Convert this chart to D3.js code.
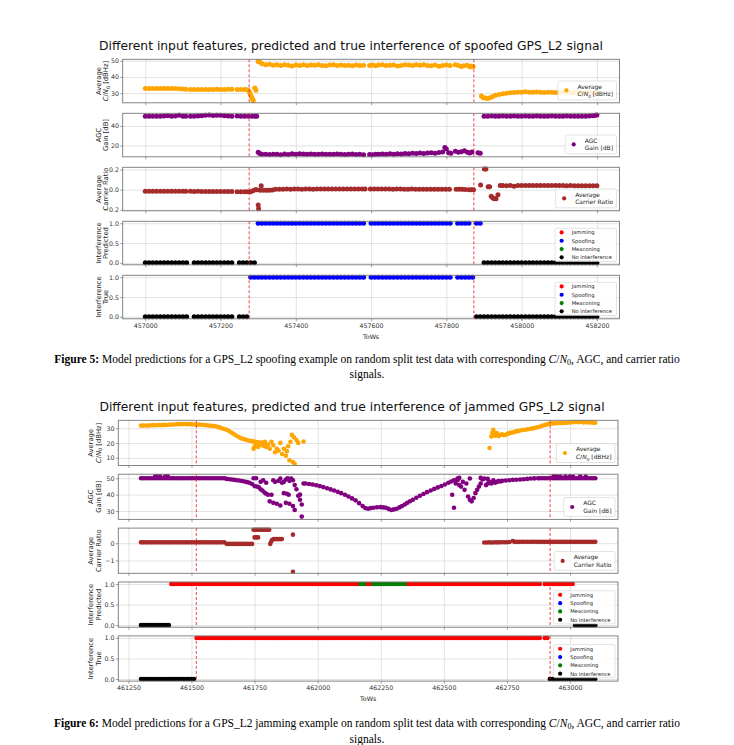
<!DOCTYPE html>
<html><head><meta charset="utf-8">
<script src="https://cdn.jsdelivr.net/npm/d3@7"></script>
<style>body{margin:0;background:#fff} svg{display:block}</style>
</head><body><svg id="c" width="734" height="745"></svg>
<script>
// ================= DATA =================
const titleSpoof = "Different input features, predicted and true interference of spoofed GPS_L2 signal";
const titleJam = "Different input features, predicted and true interference of jammed GPS_L2 signal";
const tickSpoof = [457000, 457200, 457400, 457600, 457800, 458000, 458200];
const tickJam = [461250, 461500, 461750, 462000, 462250, 462500, 462750, 463000];
const linesSpoof = [457276, 457873];
const linesJam = [461519, 462921];
const classNames = ["Jamming", "Spoofing", "Meaconing", "No interference"];
const classCodes = ["J", "S", "M", "N"];

const cn0Spoof = [
[457000,32.9],[457010,32.9],[457020,32.9],[457030,32.8],[457040,32.9],[457050,32.8],[457060,32.9],[457070,32.8],[457080,32.8],[457090,32.7],[457100,32.6],[457108,32.4],
[457120,32.3],[457130,32.3],[457140,32.3],[457150,32.2],[457160,32.3],[457170,32.3],[457180,32.3],[457190,32.4],[457200,32.3],[457210,32.3],[457220,32.4],[457230,32.4],
[457244,32.3],[457254,32.3],[457264,32.2],[457272,32.1],[457276,31.0],[457279,29.5],[457282,27.8],[457285,26.3],[457287,25.3],[457291,33.2],[457294,31.8],
[457300,49.6],[457305,49.0],[457310,48.2],[457320,47.6],[457330,47.8],[457340,47.2],[457350,47.5],[457360,47.0],[457370,47.6],[457380,47.2],[457390,46.8],[457400,47.3],[457410,47.1],[457420,47.6],[457430,47.0],[457440,47.4],[457450,47.2],[457460,47.5],[457470,47.0],[457480,46.9],[457490,47.3],[457500,47.6],[457510,47.1],[457520,47.4],[457530,47.0],[457540,47.2],[457550,46.9],[457560,47.3],[457570,47.0],[457580,47.2],
[457596,47.1],[457604,47.4],[457612,46.9],[457620,47.3],[457630,47.6],[457640,47.0],[457650,47.2],[457660,47.4],[457670,46.8],[457680,47.1],[457690,47.6],[457700,47.3],[457710,47.0],[457720,47.5],[457730,47.2],[457740,47.6],[457750,47.1],[457760,46.9],[457770,47.3],[457780,46.6],[457790,47.0],[457800,47.4],[457810,47.0],
[457824,47.6],[457832,47.1],[457840,46.4],[457846,46.9],[457855,47.2],[457862,46.3],[457866,46.8],[457871,46.3],
[457893,28.2],[457898,27.2],[457904,27.0],[457910,26.6],[457916,27.2],[457922,27.8],[457930,28.6],[457940,29.2],[457950,29.6],[457960,29.9],[457970,30.2],[457980,30.4],[457990,30.5],[458000,30.6],[458010,30.8],[458020,30.6],[458030,30.5],[458040,30.7],[458050,30.6],[458060,30.4],[458070,30.6],[458080,30.5],[458090,30.3],[458100,30.4],[458110,30.5],[458120,30.3],[458130,30.2],[458140,30.4],[458150,30.3],[458160,30.2],[458170,30.3],[458180,30.4],[458190,30.2],[458200,30.3]
];

const agcSpoof = [
[457000,50.0],[457010,50.0],[457020,50.0],[457030,50.0],[457040,50.0],[457050,50.2],[457060,50.4],[457070,50.0],[457080,50.3],[457090,51.0],[457100,50.0],[457108,50.0],
[457120,50.0],[457130,50.0],[457140,50.3],[457150,50.4],[457160,51.0],[457170,51.3],[457180,50.8],[457190,50.9],[457200,51.0],[457210,50.5],[457220,50.2],[457230,50.0],
[457244,50.3],[457254,50.0],[457264,50.0],[457274,50.0],[457284,50.0],[457292,50.0],[457296,50.0],
[457300,13.0],[457304,11.6],[457310,11.0],[457320,11.0],[457330,10.6],[457340,11.0],[457350,10.8],[457360,10.5],[457370,11.2],[457380,10.6],[457390,11.4],[457400,10.9],[457410,11.5],[457420,11.2],[457430,11.0],[457440,11.3],[457450,10.8],[457460,11.0],[457470,11.2],[457480,10.8],[457490,11.0],[457500,10.9],[457510,11.3],[457520,11.0],[457530,10.7],[457540,11.0],[457550,11.2],[457560,10.6],[457570,10.8],[457580,10.5],
[457596,10.6],[457604,10.4],[457612,11.0],[457620,10.8],[457630,11.2],[457640,10.9],[457650,11.4],[457660,11.0],[457670,11.5],[457680,11.2],[457690,11.8],[457700,11.4],[457710,12.0],[457720,11.6],[457730,12.2],[457740,11.8],[457750,12.3],[457760,12.5],[457770,12.0],[457780,12.8],[457790,13.2],[457796,17.8],[457800,16.3],[457806,12.5],[457812,12.0],
[457824,14.0],[457832,13.0],[457840,13.5],[457848,14.5],[457856,13.0],[457862,12.3],[457868,13.2],[457884,12.5],[457890,12.0],
[457900,50.0],[457910,50.0],[457920,50.1],[457930,50.0],[457940,50.0],[457950,50.2],[457960,50.0],[457970,50.0],[457980,50.1],[457990,50.0],[458000,50.0],[458010,50.2],[458020,50.0],[458030,50.0],[458040,50.1],[458050,50.0],[458060,50.0],[458070,50.0],[458080,50.1],[458090,50.0],[458100,50.0],[458110,50.0],[458120,50.1],[458130,50.0],[458140,50.0],[458150,50.0],[458160,50.0],[458170,50.0],[458180,50.3],[458190,50.6],[458196,51.0],[458200,51.2]
];

const crSpoof = [
[457000,-0.015],[457010,-0.015],[457020,-0.015],[457030,-0.015],[457040,-0.015],[457050,-0.016],[457060,-0.015],[457070,-0.016],[457080,-0.015],[457090,-0.016],[457100,-0.016],[457108,-0.017],
[457120,-0.017],[457130,-0.018],[457140,-0.017],[457150,-0.018],[457160,-0.018],[457170,-0.018],[457180,-0.018],[457190,-0.019],[457200,-0.018],[457210,-0.019],[457220,-0.019],[457230,-0.019],
[457244,-0.02],[457254,-0.02],[457264,-0.021],[457272,-0.021],[457280,-0.02],[457286,-0.012],[457292,-0.002],[457296,0.0],[457300,-0.152],[457301,-0.19],[457308,0.04],[457305,-0.006],[457314,-0.006],[457322,-0.006],[457330,-0.005],[457338,-0.004],
[457346,0.004],[457356,0.005],[457366,0.005],[457376,0.006],[457386,0.005],[457396,0.006],[457406,0.006],[457416,0.005],[457426,0.006],[457436,0.006],[457446,0.005],[457456,0.006],[457466,0.006],[457476,0.007],[457486,0.006],[457496,0.006],[457506,0.007],[457516,0.006],[457526,0.006],[457536,0.007],[457546,0.006],[457556,0.006],[457566,0.007],[457576,0.006],[457584,0.006],
[457598,0.006],[457608,0.006],[457618,0.007],[457628,0.006],[457638,0.006],[457648,0.006],[457658,0.005],[457668,0.006],[457678,0.006],[457688,0.005],[457698,0.005],[457708,0.006],[457718,0.005],[457728,0.005],[457738,0.005],[457748,0.004],[457758,0.005],[457768,0.004],[457778,0.004],[457788,0.004],[457798,0.004],[457808,0.004],
[457826,0.003],[457834,0.003],[457842,0.003],[457850,0.002],[457860,0.0],[457866,0.0],[457872,0.0],
[457891,0.045],[457901,0.205],[457905,0.205],[457911,0.03],[457915,0.03],[457919,-0.066],[457923,-0.08],[457927,-0.09],[457932,-0.09],[457937,-0.05],[457943,0.042],[457950,0.042],[457960,0.04],[457970,0.042],[457980,0.034],[457990,0.042],[458000,0.042],[458010,0.042],[458020,0.041],[458030,0.042],[458040,0.042],[458050,0.041],[458060,0.042],[458070,0.042],[458080,0.041],[458090,0.041],[458100,0.041],[458110,0.041],[458120,0.040],[458130,0.041],[458140,0.040],[458150,0.040],[458160,0.040],[458170,0.040],[458180,0.040],[458190,0.040],[458200,0.040]
];

const towsSpoof = [
457000,457010,457020,457030,457040,457050,457060,457070,457080,457090,
457100,457110,457120,457130,457140,457150,457160,457170,457180,457190,
457200,457210,457220,457230,457240,457250,457260,457270,457280,457290,
457300,457310,457320,457330,457340,457350,457360,457370,457380,457390,
457400,457410,457420,457430,457440,457450,457460,457470,457480,457490,
457500,457510,457520,457530,457540,457550,457560,457570,457580,457590,
457600,457610,457620,457630,457640,457650,457660,457670,457680,457690,
457700,457710,457720,457730,457740,457750,457760,457770,457780,457790,
457800,457810,457820,457830,457840,457850,457860,457870,457880,457890,
457900,457910,457920,457930,457940,457950,457960,457970,457980,457990,
458000,458010,458020,458030,458040,458050,458060,458070,458080,458090,
458100,458110,458120,458130,458140,458150,458160,458170,458180,458190,
458200];
const predSpoof = "NNNNNNNNNN NN.NNNNNNN NNNN.NNNNN SSSSSSSSSS SSSSSSSSSS SSSSSSSSS. SSSSSSSSSS SSSSSSSSSS SS.SSSS.SS NNNNNNNNNN NNNNNNNNNN NNNNNNNNNN N";
const trueSpoof = "NNNNNNNNNN NN.NNNNNNN NNNN.NNNSS SSSSSSSSSS SSSSSSSSSS SSSSSSSSS. SSSSSSSSSS SSSSSSSSSS SS.SSSSSNN NNNNNNNNNN NNNNNNNNNN NNNNNNNNNN N";

const cn0Jam = [
[461300,31.8],[461310,31.8],[461320,31.9],[461330,31.8],[461340,32.0],[461350,32.1],[461360,32.0],[461370,32.2],[461380,32.1],[461390,32.3],[461400,32.2],[461410,32.4],[461420,32.5],[461430,32.6],[461440,32.7],[461450,32.8],[461460,32.8],[461470,32.9],[461480,32.8],[461490,32.8],
[461500,32.7],[461510,32.6],[461520,32.6],[461530,32.5],[461540,32.4],[461550,32.2],[461560,32.0],[461570,31.8],[461580,31.6],[461590,31.5],[461600,31.2],[461610,30.6],[461620,30.0],[461630,29.5],[461640,29.0],[461650,28.0],[461660,27.0],[461670,25.8],[461680,24.8],[461690,23.8],
[461700,23.0],[461710,22.5],[461720,22.0],[461730,21.6],[461740,21.3],[461750,21.0],[461760,20.6],[461770,20.3],[461780,20.0],[461790,19.8],
[461746,16.1],[461750,17.8],[461756,19.6],[461764,17.3],[461770,18.9],[461779,20.1],[461784,18.2],[461791,20.8],[461796,17.3],[461803,18.9],[461810,16.1],[461817,20.8],[461824,18.5],[461831,13.8],[461838,16.1],[461845,14.9],[461852,20.1],[461859,12.6],[461866,16.1],[461874,11.4],[461878,14.5],[461883,17.8],[461888,8.4],[461892,20.8],[461898,25.5],[461902,7.2],[461906,23.9],[461909,6.0],[461916,22.0],[461923,20.1],[461944,21.0],
[462681,16.6],[462688,24.4],[462692,27.0],[462696,29.0],[462700,26.7],[462703,25.0],[462710,26.7],[462717,24.8],[462724,25.5],[462731,26.0],[462738,25.3],[462745,25.6],[462752,26.2],[462759,26.7],[462766,27.0],[462774,27.2],[462781,27.6],[462788,27.9],[462795,28.2],[462802,28.5],[462812,28.8],[462822,29.0],[462832,29.3],[462842,29.6],[462852,29.9],[462862,30.3],[462872,30.7],[462882,31.2],[462892,31.8],[462902,32.3],[462912,32.8],[462922,33.2],[462932,33.3],[462942,33.4],[462952,33.5],[462962,33.6],[462972,33.5],[462982,33.7],[462992,33.8],[463002,34.0],[463012,34.1],[463022,34.2],[463032,34.1],[463042,34.2],[463052,34.0],[463062,34.1],[463072,33.9],[463082,34.0],[463092,33.8],[463100,33.7]
];

const agcJam = [
[461300,50],[461310,50],[461320,50],[461330,50],[461340,50],[461350,50],[461356,51.2],[461360,50],[461366,51.2],[461370,50],[461376,51.2],[461380,50],[461390,50],[461396,51.2],[461400,50],[461406,51.2],[461410,50],
[461420,50],[461430,50],[461440,50],[461450,50],[461460,50],[461470,50],[461480,50],[461490,50],[461500,50],[461510,50],[461520,50],[461530,50],[461540,50],[461550,50],[461560,50],[461570,50],[461580,50],[461590,50],[461600,50],[461610,50],[461620,50],[461630,50],
[461640,49.6],[461650,49.4],[461660,49.2],[461670,49.0],[461680,48.8],[461690,48.6],[461700,48.3],[461710,48.0],[461720,47.6],[461730,47.2],[461740,46.5],
[461746,50.0],[461750,45.2],[461756,50.0],[461760,44.9],[461767,44.5],[461774,43.3],[461774,47.8],[461781,42.5],[461784,48.8],[461789,41.3],[461796,40.5],[461796,47.2],[461803,39.9],[461810,35.9],[461817,39.9],[461824,35.0],[461824,48.8],[461831,47.8],[461838,34.4],[461845,48.4],[461852,33.4],[461852,49.8],[461859,47.2],[461866,47.8],[461866,40.9],[461874,49.2],[461874,35.0],[461878,40.5],[461881,50.0],[461885,39.9],[461888,48.4],[461888,34.4],[461895,49.8],[461902,48.8],[461902,33.0],[461909,30.6],[461909,45.8],[461916,43.3],[461923,39.3],[461930,36.9],[461930,40.0],[461937,26.6],[461937,34.0],[461944,46.8],
[461952,46.8],[461966,46.5],[461980,46.2],[461994,45.7],[462008,45.2],[462022,44.6],[462037,43.9],[462051,43.2],[462065,42.5],[462079,41.7],[462093,40.9],[462108,39.9],[462122,38.9],[462136,37.7],[462150,36.5],[462164,34.8],[462178,33.0],[462189,31.8],[462200,31.4],[462210,31.8],[462221,32.0],[462235,32.3],[462249,32.4],[462260,32.2],[462270,32.0],[462281,31.3],[462292,30.6],[462302,31.0],[462313,31.4],[462324,32.2],[462334,33.0],[462345,34.0],[462355,35.0],[462366,36.0],[462377,36.9],[462391,38.1],[462405,39.3],[462419,40.4],[462433,41.5],[462448,42.5],[462462,43.5],[462476,44.4],[462490,45.2],[462504,46.2],[462518,47.2],[462529,48.0],[462540,48.8],[462554,49.8],
[462533,39.9],[462540,32.0],[462547,46.8],[462554,48.8],[462561,45.8],[462561,50.2],[462568,44.9],[462575,47.8],[462582,42.9],[462589,46.8],[462596,38.9],[462603,36.9],[462603,49.8],[462610,35.9],[462618,37.9],[462625,40.9],[462632,42.9],[462639,44.9],[462646,46.8],[462646,50.2],[462653,49.2],[462660,49.8],[462667,45.8],[462674,46.8],[462674,49.6],[462681,47.8],[462688,46.8],[462696,48.8],[462703,47.2],[462710,47.8],[462717,48.2],
[462724,48.0],[462731,48.4],[462745,48.6],[462759,48.8],[462773,49.0],[462787,49.1],[462802,49.2],[462816,49.4],[462830,49.6],[462844,49.8],[462858,49.9],[462873,50.0],
[462880,50],[462890,50],[462900,50],[462910,50],[462920,50],[462930,50],[462940,50],[462950,50],[462960,50],[462970,50],[462980,50],[462990,50],[463000,50],[463010,50],[463020,50],[463030,50],[463040,50],[463050,50],[463060,50],[463070,50],[463080,50],[463090,50],[463100,50],
[462935,51.2],[462948,51.2],[462962,51.0],[462982,51.2],[463000,51.2],[463012,51.0],[463040,51.2],[463062,51.0]
];

const crJam = [
[461300,0.05],[461310,0.05],[461320,0.05],[461330,0.05],[461340,0.05],[461350,0.05],[461360,0.05],[461370,0.05],[461380,0.05],[461390,0.05],[461400,0.05],[461410,0.05],[461420,0.05],[461430,0.05],[461440,0.05],[461450,0.05],[461460,0.05],[461470,0.05],[461480,0.05],[461490,0.05],
[461500,0.05],[461510,0.05],[461520,0.05],[461530,0.05],[461540,0.05],[461550,0.05],[461560,0.05],[461570,0.05],[461580,0.05],[461590,0.05],[461600,0.05],[461610,0.05],[461620,0.05],[461630,0.05],
[461640,-0.04],[461650,-0.04],[461660,-0.04],[461670,-0.04],[461680,-0.04],[461690,-0.04],[461700,-0.04],[461710,-0.04],[461720,-0.04],[461730,-0.04],[461740,-0.04],
[461746,0.78],[461750,0.34],[461753,0.78],[461757,0.34],[461760,0.78],[461764,0.34],[461767,0.78],[461774,0.78],[461781,0.78],[461788,0.78],[461795,0.78],[461802,0.78],[461808,0.78],
[461812,-0.04],[461816,0.1],[461820,0.2],[461826,0.24],[461832,0.24],[461838,0.24],[461845,0.24],[461851,0.24],[461858,0.24],[461902,0.5],[461902,-1.66],
[462660,0.04],[462670,0.04],[462680,0.05],[462690,0.04],[462700,0.05],[462710,0.05],[462720,0.05],[462730,0.06],[462740,0.06],[462750,0.06],[462760,0.07],[462773,0.13],[462780,0.08],[462790,0.08],
[462800,0.08],[462810,0.08],[462820,0.09],[462830,0.08],[462840,0.08],[462850,0.08],[462860,0.09],[462870,0.08],[462880,0.08],[462890,0.08],[462900,0.08],[462910,0.08],[462920,0.08],[462930,0.08],[462940,0.08],[462950,0.08],[462960,0.08],[462970,0.08],[462980,0.08],[462990,0.08],
[463000,0.08],[463010,0.08],[463020,0.08],[463030,0.08],[463040,0.08],[463050,0.08],[463060,0.08],[463070,0.08],[463080,0.08],[463090,0.08],[463100,0.08]
];

const towsJam = [
461300,461310,461320,461330,461340,461350,461360,461370,461380,461390,
461400,461410,461420,461430,461440,461450,461460,461470,461480,461490,
461500,461510,461520,461530,461540,461550,461560,461570,461580,461590,
461600,461610,461620,461630,461640,461650,461660,461670,461680,461690,
461700,461710,461720,461730,461740,461750,461760,461770,461780,461790,
461800,461810,461820,461830,461840,461850,461860,461870,461880,461890,
461900,461910,461920,461930,461940,461950,461960,461970,461980,461990,
462000,462010,462020,462030,462040,462050,462060,462070,462080,462090,
462100,462110,462120,462130,462140,462150,462160,462170,462180,462190,
462200,462210,462220,462230,462240,462250,462260,462270,462280,462290,
462300,462310,462320,462330,462340,462350,462360,462370,462380,462390,
462400,462410,462420,462430,462440,462450,462460,462470,462480,462490,
462500,462510,462520,462530,462540,462550,462560,462570,462580,462590,
462600,462610,462620,462630,462640,462650,462660,462670,462680,462690,
462700,462710,462720,462730,462740,462750,462760,462770,462780,462790,
462800,462810,462820,462830,462840,462850,462860,462870,462880,462890,
462900,462910,462920,462930,462940,462950,462960,462970,462980,462990,
463000,463010,463020,463030,463040,463050,463060,463070,463080,463090,
463100];
const predJam = "NNNNNNNNNN NNJJJJJJJJ JJJJJJJJJJ JJJJJJJJJJ JJJJJJJJJJ JJJJJJJJJJ JJJJJJJJJJ JJJJJJJJJJ JJJJJJJMMM JJMMMMMMMM MMMMMMJJJJ JJJJJJJJJJ JJJJJJJJJJ JJJJJJJJJJ JJJJJJJJJJ JJJJJJJJJ. JJJJJJJJJJ JJNNNNNNNN N";
const trueJam = "NNNNNNNNNN NNNNNNNNNN NNJJJJJJJJ JJJJJJJJJJ JJJJJJJJJJ JJJJJJJJJJ JJJJJJJJJJ JJJJJJJJJJ JJJJJJJJJJ JJJJJJJJJJ JJJJJJJJJJ JJJJJJJJJJ JJJJJJJJJJ JJJJJJJJJJ JJJJJJJJJJ JJJJJJJJJ. JJNNNNNNNN NNNNNNNNNN N";

// ================= DRAWING =================
const FONT = "'DejaVu Sans', sans-serif";
const classColors = {J: "#ff0000", S: "#0000ff", M: "#008000", N: "#000000"};
const svg = d3.select("#c").attr("font-family", FONT);

function rich(sel, parts, fs) {
  let pend = 0;
  parts.forEach(p => {
    const o = typeof p === "string" ? {t: p} : p;
    const t = sel.append("tspan").text(o.t);
    let dy = pend; pend = 0;
    if (o.i) t.attr("font-style", "italic");
    if (o.b) t.attr("font-weight", "bold");
    if (o.sub) { t.attr("font-size", fs * 0.7); dy += fs * 0.25; pend = -fs * 0.25; }
    if (dy) t.attr("dy", dy);
  });
}

const CN0 = [{t: "C", i: true}, "/", {t: "N", i: true}, {t: "0", sub: true}, " [dBHz]"];
const labCN0 = [["Average"], CN0];
const labAGC = [["AGC"], ["Gain [dB]"]];
const labCR = [["Average"], ["Carrier Ratio"]];

const figs = [
  {title: titleSpoof, xDom: [456940, 458260], left: 122.7, right: 619.5, top: 59.3, step: 54, h: 43.5, r: 2.5,
   ticks: tickSpoof, titleX: 351, titleY: 50, ylabX: [99, 105.7], vlines: linesSpoof, tows: towsSpoof,
   panels: [
     {kind: "s", data: cn0Spoof, color: "#ffa500", yDom: [24.0, 50.9], yT: [30, 40, 50], fmt: "d", lab: labCN0},
     {kind: "s", data: agcSpoof, color: "#800080", yDom: [8.3, 53.0], yT: [20, 40], fmt: "d", lab: labAGC},
     {kind: "s", data: crSpoof, color: "#a52a2a", yDom: [-0.21, 0.222], yT: [-0.2, 0, 0.2], fmt: ".1f", lab: labCR},
     {kind: "c", codes: predSpoof, yDom: [-0.05, 1.05], yT: [0, 0.5, 1], fmt: ".1f", lab: [["Interference"], ["Predicted"]]},
     {kind: "c", codes: trueSpoof, yDom: [-0.05, 1.05], yT: [0, 0.5, 1], fmt: ".1f", lab: [["Interference"], ["True"]]}
   ]},
  {title: titleJam, xDom: [461210, 463190], left: 118.3, right: 618, top: 420.3, step: 53.9, h: 45.2, r: 2.3,
   ticks: tickJam, titleX: 352, titleY: 411, ylabX: [91, 98.3], vlines: linesJam, tows: towsJam,
   panels: [
     {kind: "s", data: cn0Jam, color: "#ffa500", yDom: [4.8, 35.4], yT: [10, 20, 30], fmt: "d", lab: labCN0},
     {kind: "s", data: agcJam, color: "#800080", yDom: [24.9, 52.45], yT: [30, 40, 50], fmt: "d", lab: labAGC},
     {kind: "s", data: crJam, color: "#a52a2a", yDom: [-1.75, 0.88], yT: [-1, 0], fmt: "d", lab: labCR},
     {kind: "c", codes: predJam, yDom: [-0.05, 1.05], yT: [0, 0.5, 1], fmt: ".1f", lab: [["Interference"], ["Predicted"]]},
     {kind: "c", codes: trueJam, yDom: [-0.05, 1.05], yT: [0, 0.5, 1], fmt: ".1f", lab: [["Interference"], ["True"]]}
   ]}
];

function legend(g, entries, right, bottom, opt) {
  const lg = g.append("g");
  const box = lg.append("rect");
  const h = opt.single ? entries[0].lines.length * opt.lh + 2 * opt.pv : entries.length * opt.lh;
  const top = bottom - h;
  let maxW = 0;
  const texts = [];
  entries.forEach((e, k) => {
    const cy = opt.single ? top + h / 2 : top + opt.lh / 2 + k * opt.lh;
    lg.append("circle").attr("r", 2.1).attr("fill", e.color).attr("cy", cy);
    e.lines.forEach((ln, j) => {
      const ly = opt.single ? top + opt.pv + opt.lh * (j + 0.5) : cy;
      const t = lg.append("text").attr("y", ly + opt.fs * 0.36).attr("font-size", opt.fs).attr("fill", "#222");
      rich(t, ln, opt.fs);
      maxW = Math.max(maxW, t.node().getComputedTextLength());
      texts.push(t);
    });
  });
  const w = opt.tx + maxW + opt.pr;
  const x0 = right - w;
  box.attr("x", x0).attr("y", top).attr("width", w).attr("height", h).attr("rx", 1.5)
     .attr("fill", "#fff").attr("fill-opacity", 0.85).attr("stroke", "#d0d0d0").attr("stroke-width", 0.6);
  lg.selectAll("circle").attr("cx", x0 + opt.mx);
  texts.forEach(t => t.attr("x", x0 + opt.tx));
}

figs.forEach(f => {
  svg.append("text").attr("x", f.titleX).attr("y", f.titleY).attr("text-anchor", "middle")
     .attr("font-size", 12.3).attr("fill", "#111").text(f.title);
  const x = d3.scaleLinear().domain(f.xDom).range([f.left, f.right]);
  const W = f.right - f.left;
  f.panels.forEach((p, k) => {
    const y0 = f.top + k * f.step, y1 = y0 + f.h;
    const y = d3.scaleLinear().domain(p.yDom).range([y1, y0]);
    const g = svg.append("g");
    // grid
    g.append("g").attr("transform", `translate(0,${y1})`)
      .call(d3.axisBottom(x).tickValues(f.ticks).tickSize(-f.h).tickFormat(""))
      .call(s => { s.select(".domain").remove(); s.selectAll("line").attr("stroke", "#d6d6d6").attr("stroke-width", 0.7); });
    g.append("g").attr("transform", `translate(${f.left},0)`)
      .call(d3.axisLeft(y).tickValues(p.yT).tickSize(-W).tickFormat(""))
      .call(s => { s.select(".domain").remove(); s.selectAll("line").attr("stroke", "#d6d6d6").attr("stroke-width", 0.7); });
    // points
    let pts;
    if (p.kind === "s") {
      pts = p.data.map(d => ({t: d[0], v: d[1], c: p.color}));
    } else {
      const codes = p.codes.replace(/\s/g, "");
      pts = f.tows.map((t, i) => ({t, code: codes[i]})).filter(d => d.code && d.code !== ".")
        .map(d => ({t: d.t, v: d.code === "N" ? 0 : 1, c: classColors[d.code]}));
    }
    g.append("g").selectAll("circle").data(pts).join("circle")
      .attr("cx", d => x(d.t)).attr("cy", d => y(d.v)).attr("r", f.r).attr("fill", d => d.c);
    // vertical dashed lines
    g.append("g").selectAll("line").data(f.vlines).join("line")
      .attr("x1", d => x(d)).attr("x2", d => x(d)).attr("y1", y0).attr("y2", y1)
      .attr("stroke", "#e8141b").attr("stroke-width", 0.8).attr("stroke-dasharray", "3,2");
    // frame
    g.append("rect").attr("x", f.left).attr("y", y0).attr("width", W).attr("height", f.h)
      .attr("fill", "none").attr("stroke", "#777").attr("stroke-width", 0.9);
    // y axis
    g.append("g").attr("transform", `translate(${f.left},0)`)
      .call(d3.axisLeft(y).tickValues(p.yT).tickSize(2.5).tickPadding(1.3).tickFormat(d3.format(p.fmt)))
      .call(s => {
        s.select(".domain").remove();
        s.attr("font-family", FONT).attr("font-size", 6.3);
        s.selectAll("line").attr("stroke", "#777").attr("stroke-width", 0.7);
        s.selectAll("text").attr("fill", "#333");
      });
    // x axis ticks
    g.append("g").attr("transform", `translate(0,${y1})`)
      .call(d3.axisBottom(x).tickValues(f.ticks).tickSize(2.5).tickPadding(1.8)
        .tickFormat(k === f.panels.length - 1 ? d3.format("d") : ""))
      .call(s => {
        s.select(".domain").remove();
        s.attr("font-family", FONT).attr("font-size", 6.3);
        s.selectAll("line").attr("stroke", "#777").attr("stroke-width", 0.7);
        s.selectAll("text").attr("fill", "#333");
      });
    // y label (two lines)
    const yc = (y0 + y1) / 2, lfs = 6.8;
    p.lab.forEach((ln, j) => {
      const t = g.append("text").attr("text-anchor", "middle").attr("font-size", lfs).attr("fill", "#222")
        .attr("transform", `translate(${f.ylabX[j] + lfs * 0.36},${yc}) rotate(-90)`);
      rich(t, ln, lfs);
    });
    // legend
    if (p.kind === "s") {
      legend(g, [{color: p.color, lines: p.lab}], f.right - 3, y1 - 3,
        {single: true, fs: 6.0, lh: 7.8, pv: 1.6, mx: 8.5, tx: 19.5, pr: 3.5});
    } else {
      legend(g, classCodes.map((c, i) => ({color: classColors[c], lines: [[classNames[i]]]})), f.right - 3, y1 - 3.3,
        {single: false, fs: 5.2, lh: 8.3, mx: 6.6, tx: 16.6, pr: 4.5});
    }
  });
  // x label
  const lastBottom = f.top + (f.panels.length - 1) * f.step + f.h;
  svg.append("text").attr("x", (f.left + f.right) / 2).attr("y", lastBottom + 19.8)
     .attr("text-anchor", "middle").attr("font-size", 6.3).attr("fill", "#222").text("ToWs");
});

// captions
const captions = [
  {num: "Figure 5:", kind: "spoofing", y: [362.5, 377.5]},
  {num: "Figure 6:", kind: "jamming", y: [726.5, 742.5]}
];
captions.forEach(c => {
  const fs = 11.5;
  const t1 = svg.append("text").attr("x", 367).attr("y", c.y[0]).attr("text-anchor", "middle")
    .attr("font-family", "'Liberation Serif', 'Times New Roman', serif").attr("font-size", fs).attr("fill", "#000");
  rich(t1, [{t: c.num, b: true}, ` Model predictions for a GPS_L2 ${c.kind} example on random split test data with corresponding `,
    {t: "C", i: true}, "/", {t: "N", i: true}, {t: "0", sub: true}, ", AGC, and carrier ratio"], fs);
  svg.append("text").attr("x", 367).attr("y", c.y[1]).attr("text-anchor", "middle")
    .attr("font-family", "'Liberation Serif', 'Times New Roman', serif").attr("font-size", fs).attr("fill", "#000").text("signals.");
});
</script></body></html>
